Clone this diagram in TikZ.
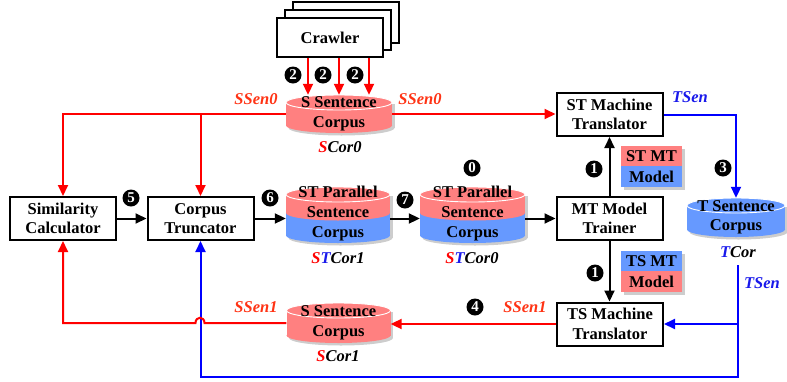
\documentclass[tikz,border=0pt]{standalone}
\usepackage{fontspec}
\setmainfont{Liberation Serif}
\usetikzlibrary{arrows.meta}
\definecolor{cred}{RGB}{255,128,128}
\definecolor{cblue}{RGB}{102,153,255}
\definecolor{lred}{RGB}{255,0,0}
\definecolor{lblue}{RGB}{0,0,255}
\definecolor{lorange}{RGB}{255,51,20}
\definecolor{tblue}{RGB}{25,25,235}
\definecolor{shd}{RGB}{205,205,205}
\newcommand\cylone[5]{%
 \fill[shd] (#1-#2+2.5,#3+9) rectangle (#1+#2+2.5,#4-5);
 \fill[shd] (#1+2.5,#4-5) ellipse [x radius=#2, y radius=7.5];
 \fill[#5] (#1-#2,#3+7.5) rectangle (#1+#2,#4-7.5);
 \fill[#5] (#1,#4-7.5) ellipse [x radius=#2, y radius=7.5];
 \fill[#5] (#1,#3+7.5) ellipse [x radius=#2, y radius=7.5];
 \draw[white,line width=0.9pt] (#1,#3+7.5) ellipse [x radius=#2, y radius=7.5];
}
\newcommand\cyltwo[7]{%
 \fill[shd] (#1-#2+2.5,#3+9) rectangle (#1+#2+2.5,#4-5);
 \fill[shd] (#1+2.5,#4-5) ellipse [x radius=#2, y radius=7.5];
 \fill[#7] (#1-#2,#5) rectangle (#1+#2,#4-7.5);
 \fill[#7] (#1,#4-7.5) ellipse [x radius=#2, y radius=7.5];
 \fill[#6] (#1-#2,#3+7.5) rectangle (#1+#2,#5);
 \fill[#6] (#1,#5) ellipse [x radius=#2, y radius=7.5];
 \fill[#6] (#1,#3+7.5) ellipse [x radius=#2, y radius=7.5];
 \draw[white,line width=0.9pt] (#1,#3+7.5) ellipse [x radius=#2, y radius=7.5];
}
\newcommand\modelbox[7]{%
 \fill[shd] (#1+3,#2+3) rectangle (#3+3,#4+3);
 \fill[#6] (#1,#2) rectangle (#3,#5);
 \fill[#7] (#1,#5) rectangle (#3,#4);
}
\tikzset{
 box/.style={draw, line width=2pt, fill=white, minimum width=106pt, minimum height=43pt,
   align=center, font=\bfseries\fontsize{16.5}{19.5}\selectfont, inner sep=0pt},
 ctext/.style={align=center, font=\bfseries\fontsize{16.5}{19.5}\selectfont, inner sep=0pt},
 num/.style={circle, fill=black, text=white, inner sep=0pt, minimum size=17pt,
   font=\bfseries\fontsize{15}{15}\selectfont},
 lab/.style={font=\bfseries\itshape\fontsize{16.5}{18}\selectfont, inner sep=0pt},
 tip/.style={-{Triangle[length=11pt,width=10pt]}},
 redarr/.style={draw=lred, line width=2pt, tip},
 bluearr/.style={draw=lblue, line width=2pt, tip},
 blackarr/.style={draw=black, line width=2pt, tip},
}
\begin{document}
\begin{tikzpicture}[x=1pt,y=-1pt]
\useasboundingbox (0,0) rectangle (787,381);

% crawler stack
\draw[line width=2pt, fill=white] (293,2) rectangle (399,43);
\draw[line width=2pt, fill=white] (285,10) rectangle (391,50);
\node[box, minimum width=106pt, minimum height=39pt] (crawler) at (330,37.5) {Crawler};

% cylinders
\cylone{339}{53}{95}{133}{cred}
\cylone{338.5}{52}{303}{343}{cred}
\cyltwo{338}{52}{187}{243}{213}{cred}{cblue}
\cyltwo{472.5}{52.5}{187}{243}{213}{cred}{cblue}
\cylone{736}{49}{198}{237}{cblue}

\node[ctext, minimum width=106pt, minimum height=38pt] (scor0) at (339,114) {S Sentence\\Corpus};
\node[ctext, minimum width=104pt, minimum height=40pt] (scor1) at (338.5,323) {S Sentence\\Corpus};
\node[ctext, minimum width=104pt, minimum height=56pt, font=\bfseries\fontsize{16.5}{20}\selectfont] (stcor1) at (338,214) {ST Parallel\\Sentence\\Corpus};
\node[ctext, minimum width=105pt, minimum height=56pt, font=\bfseries\fontsize{16.5}{20}\selectfont] (stcor0) at (472.5,214) {ST Parallel\\Sentence\\Corpus};
\node[ctext, minimum width=98pt, minimum height=39pt] (tcor) at (736,217.5) {T Sentence\\Corpus};

% model boxes
\modelbox{621}{146}{682}{187}{166}{cred}{cblue}
\modelbox{621}{251}{682}{292}{271}{cblue}{cred}
\node[ctext, font=\bfseries\fontsize{16.5}{20.5}\selectfont] (stmodel) at (651.5,166.5) {ST MT\\Model};
\node[ctext, font=\bfseries\fontsize{16.5}{20.5}\selectfont] (tsmodel) at (651.5,271.5) {TS MT\\Model};

% boxes
\node[box] (simcalc) at (63,218.5) {Similarity\\Calculator};
\node[box] (trunc) at (200.5,218.5) {Corpus\\Truncator};
\node[box] (trainer) at (609.5,218.5) {MT Model\\Trainer};
\node[box] (sttrans) at (609.5,114.5) {ST Machine\\Translator};
\node[box] (tstrans) at (610,324) {TS Machine\\Translator};

% labels
\node[lab, text=lorange] (ssen0l) at (256,99) {SSen0};
\node[lab, text=lorange] (ssen0r) at (420,99) {SSen0};
\node[lab, text=tblue] (tsen1) at (690,97) {TSen};
\node[lab, text=tblue] (tsen2) at (762,283) {TSen};
\node[lab, text=lorange] (ssen1l) at (256,307) {SSen1};
\node[lab, text=lorange] (ssen1r) at (525,307) {SSen1};
\node[lab] (scor0lab) at (340,147) {\textcolor{lred}{S}Cor0};
\node[lab] (stcor1lab) at (338,258) {\textcolor{lred}{S}\textcolor{tblue}{T}Cor1};
\node[lab] (stcor0lab) at (472,258) {\textcolor{lred}{S}\textcolor{tblue}{T}Cor0};
\node[lab] (scor1lab) at (338,356) {\textcolor{lred}{S}Cor1};
\node[lab] (tcorlab) at (738,252) {\textcolor{tblue}{T}Cor};

% numbers
\node[num] (n2a) at (293,75) {2};
\node[num] (n2b) at (323,75) {2};
\node[num] (n2c) at (355,75) {2};
\node[num] (n5) at (131,198) {5};
\node[num] (n6) at (270,198) {6};
\node[num] (n7) at (405,200) {7};
\node[num] (n0) at (472,168) {0};
\node[num] (n1a) at (594,169) {1};
\node[num] (n1b) at (595,273) {1};
\node[num] (n3) at (723,168) {3};
\node[num] (n4) at (475,307) {4};

% crawler arrows
\draw[redarr] ([xshift=-31pt]scor0.north |- crawler.south) -- ([xshift=-31pt]scor0.north);
\draw[redarr] (scor0.north |- crawler.south) -- (scor0.north);
\draw[redarr] ([xshift=30pt]scor0.north |- crawler.south) -- ([xshift=30pt]scor0.north);

% red SSen0
\draw[redarr] (scor0.west) -| (simcalc.north);
\coordinate (rb) at (trunc.north |- scor0.west);
\draw[redarr] (rb) -- (trunc.north);
\draw[redarr] (scor0.east) -- (scor0.east -| sttrans.west);

% black flow
\draw[blackarr] (simcalc.east) -- (trunc.west);
\draw[blackarr] (trunc.east) -- (trunc.east -| stcor1.west);
\draw[blackarr] (stcor1.east |- trunc.east) -- (stcor0.west |- trunc.east);
\draw[blackarr] (stcor0.east |- trunc.east) -- (trainer.west);
\draw[blackarr] (trainer.north) -- (sttrans.south -| trainer.north);
\draw[blackarr] (trainer.south) -- (tstrans.north -| trainer.south);

% blue
\draw[bluearr] (sttrans.east) -| (tcor.north);
\coordinate (bstart) at (738,265);
\coordinate (bcorner) at (738,377);
\draw[bluearr] (bstart) -- (bcorner) -| (trunc.south);
\draw[bluearr] (bstart |- tstrans.east) -- (tstrans.east);

% red SSen1
\draw[redarr] (tstrans.west) -- (tstrans.west -| scor1.east);
\coordinate (h1) at (204.5,323);
\coordinate (h2) at (195.5,323);
\draw[redarr] (scor1.west) -- (h1) .. controls (204.5,316) and (195.5,316) .. (h2) -| (simcalc.south);
\end{tikzpicture}
\end{document}
